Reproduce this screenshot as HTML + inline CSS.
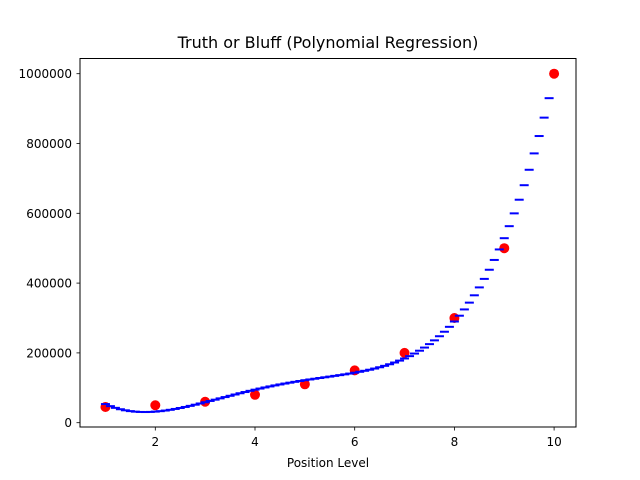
<!DOCTYPE html>
<html><head><meta charset="utf-8"><style>
body{margin:0;background:#fff;}
svg{display:block;font-family:"DejaVu Sans","Liberation Sans",sans-serif;}
</style></head><body>
<svg id="chart" width="640" height="480" viewBox="0 0 640 480">
<rect width="640" height="480" fill="#fff"/>
<text x="328" y="48" font-size="16" text-anchor="middle">Truth or Bluff (Polynomial Regression)</text>
<g id="marks"></g>
<rect x="80" y="58.5" width="496" height="368.5" fill="none" stroke="#000" stroke-width="1"/>
<g id="axes"></g>
<text x="328" y="467" font-size="12" text-anchor="middle">Position Level</text>
<text x="0" y="0" font-size="12" text-anchor="middle" transform="translate(-4,242) rotate(-90)">Salary</text>
</svg>
<script>
const levels=[1,2,3,4,5,6,7,8,9,10];
const salaries=[45000,50000,60000,80000,110000,150000,200000,300000,500000,1000000];
const gridStart=1.0, gridStep=0.1;
const predicted=[53357,47452,42551,38587,35492,33203,31659,30799,30565,30903,
31760,33083,34825,36938,39378,42102,45069,48242,51584,55061,
58641,62294,65993,69713,73429,77121,80770,84358,87871,91296,
94632,97843,100950,103939,106809,109560,112195,114717,117133,119451,
121724,123883,125984,128044,130082,132119,134180,136291,138478,140772,
143272,145889,148716,151793,155160,158860,162938,167441,172418,177921,
183999,190720,198129,206291,215268,225123,235924,247739,260638,274694,
289986,306579,324565,344020,365028,387675,412048,438237,466334,496434,
528682,563127,599819,638912,680509,724718,771648,821410,874118,929886];
const xTicks=[2,4,6,8,10];
const yTicks=[0,200000,400000,600000,800000,1000000];

const NS="http://www.w3.org/2000/svg";
function X(v){return 155.3+(v-2)*49.85;}
function Y(v){return 422.7-v*0.000349;}
const marks=document.getElementById('marks');
const axes=document.getElementById('axes');
function mk(tag,attrs,parent){const e=document.createElementNS(NS,tag);for(const k in attrs)e.setAttribute(k,attrs[k]);parent.appendChild(e);return e;}

levels.forEach((lv,i)=>{
  const c=mk('circle',{cx:X(lv),cy:Y(salaries[i]),r:5,fill:'#ff0000'},marks);
  
  
});
predicted.forEach((v,i)=>{
  const x=X(gridStart+i*gridStep),y=Y(v);
  const l=mk('line',{x1:x-4.5,x2:x+4.5,y1:y,y2:y,stroke:'#0000ff','stroke-width':2},marks);
  
  
});
xTicks.forEach(t=>{
  const x=X(t);
  const l=mk('line',{x1:x,x2:x,y1:427,y2:430.5,stroke:'#000','stroke-width':0.8},axes);
  
  
  const tx=mk('text',{x:x,y:446,'font-size':12,'text-anchor':'middle'},axes);
  tx.textContent=t;
  
  
});
yTicks.forEach(t=>{
  const y=Y(t);
  const l=mk('line',{x1:76.5,x2:80,y1:y,y2:y,stroke:'#000','stroke-width':0.8},axes);
  
  
  const tx=mk('text',{x:72,y:y+4.5,'font-size':12,'text-anchor':'end'},axes);
  tx.textContent=t;
  
  
});
</script>
</body></html>
